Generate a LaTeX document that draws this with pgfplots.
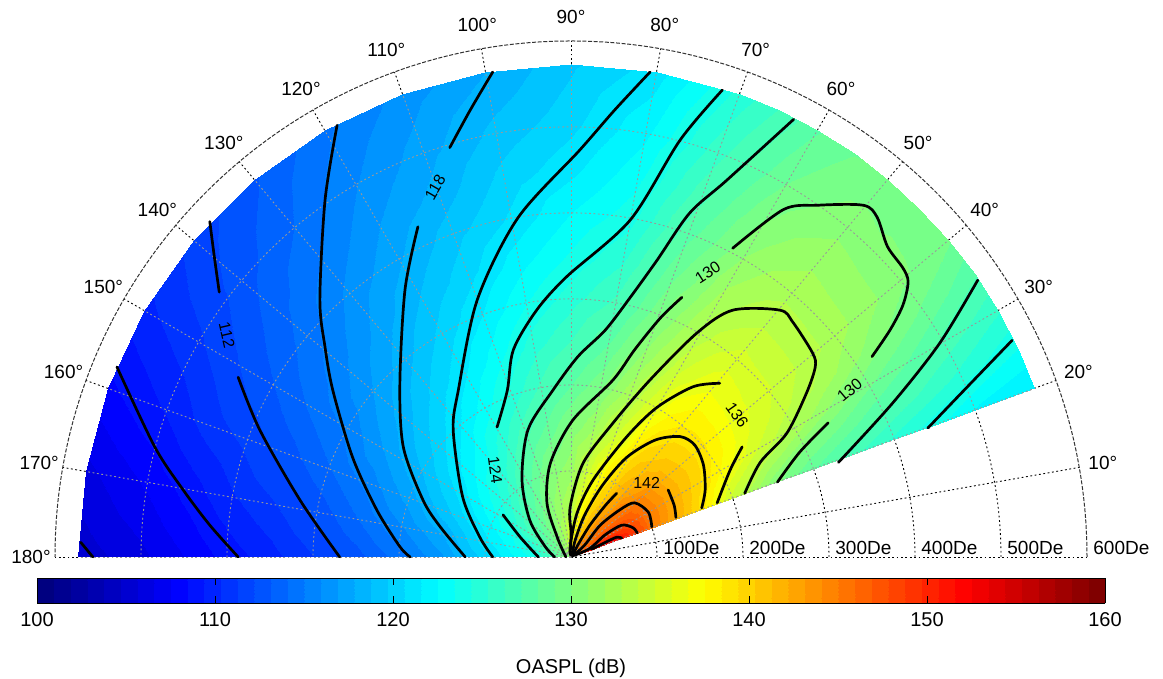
\documentclass[border=0pt]{standalone}
\usepackage{fontspec}
\setmainfont{Liberation Sans}
\usepackage{pgfplots}
\usepackage{pgfplotstable}
\pgfplotsset{compat=1.18}

\pgfplotsset{colormap/jet}
\pgfplotsset{colormap={jetbands}{samples of colormap=(64 of jet)}}

% OASPL field: angle t (deg), radius r (De), level v (dB)
\pgfplotstableread[row sep=\\]{
t r v\\
20 2 150\\ 20 25 151\\ 20 50 153\\ 20 75 149.5\\ 20 100 145\\ 20 150 140.2\\ 20 200 134.3\\ 20 250 130.4\\ 20 300 128.2\\ 20 350 126.5\\ 20 400 125.1\\ 20 450 123.8\\ 20 500 122.4\\ 20 573 121.5\\
25 2 148\\ 25 25 150\\ 25 50 150.7\\ 25 75 149\\ 25 100 145.3\\ 25 150 140.7\\ 25 200 135.8\\ 25 250 132.4\\ 25 300 130.0\\ 25 350 128.6\\ 25 400 127.2\\ 25 450 126.1\\ 25 500 125.0\\ 25 573 123.4\\
30 2 146\\ 30 25 147.5\\ 30 50 148.5\\ 30 75 148\\ 30 100 145.4\\ 30 150 141.0\\ 30 200 137.5\\ 30 250 134.7\\ 30 300 132.6\\ 30 350 130.7\\ 30 400 129.2\\ 30 450 128.1\\ 30 500 126.9\\ 30 573 125.4\\
35 2 145\\ 35 25 146.5\\ 35 50 147.5\\ 35 75 147\\ 35 100 145.1\\ 35 150 141.2\\ 35 200 138.3\\ 35 250 135.7\\ 35 300 134.1\\ 35 350 132.6\\ 35 400 131.2\\ 35 450 129.9\\ 35 500 128.9\\ 35 573 127.3\\
40 2 144\\ 40 25 145.3\\ 40 50 146\\ 40 75 145.7\\ 40 100 144.9\\ 40 150 141.0\\ 40 200 138.6\\ 40 250 136.1\\ 40 300 134.8\\ 40 350 133.5\\ 40 400 132.3\\ 40 450 131.3\\ 40 500 130.2\\ 40 573 129.2\\
45 2 145\\ 45 25 145.3\\ 45 50 145.5\\ 45 75 145.1\\ 45 100 143.3\\ 45 150 140.8\\ 45 200 138.6\\ 45 250 136.4\\ 45 300 134.9\\ 45 350 133.6\\ 45 400 132.4\\ 45 450 131.4\\ 45 500 130.3\\ 45 573 129.5\\
50 2 145\\ 50 25 144.4\\ 50 50 143.7\\ 50 75 142.9\\ 50 100 142.2\\ 50 150 140.2\\ 50 200 138.4\\ 50 250 136.6\\ 50 300 135.1\\ 50 350 133.7\\ 50 400 132.5\\ 50 450 131.6\\ 50 500 130.6\\ 50 573 129.3\\
55 2 145\\ 55 25 144\\ 55 50 143.3\\ 55 75 142.4\\ 55 100 141.4\\ 55 150 139.6\\ 55 200 137.6\\ 55 250 135.7\\ 55 300 134.4\\ 55 350 133.0\\ 55 400 132.0\\ 55 450 131.0\\ 55 500 130.0\\ 55 573 129.0\\
60 2 143\\ 60 25 141.9\\ 60 50 141.2\\ 60 75 140.5\\ 60 100 139.9\\ 60 150 138.3\\ 60 200 136.0\\ 60 250 134.6\\ 60 300 133.2\\ 60 350 132.1\\ 60 400 131.0\\ 60 450 130.0\\ 60 500 129.1\\ 60 573 128.0\\
65 2 142\\ 65 25 141.4\\ 65 50 140.6\\ 65 75 139.8\\ 65 100 139.0\\ 65 150 136.2\\ 65 200 134.4\\ 65 250 132.7\\ 65 300 131.4\\ 65 350 130.2\\ 65 400 129.2\\ 65 450 128.4\\ 65 500 127.5\\ 65 573 126.3\\
70 2 142\\ 70 25 140.8\\ 70 50 139.7\\ 70 75 138.5\\ 70 100 137.1\\ 70 150 134.7\\ 70 200 132.6\\ 70 250 131.2\\ 70 300 129.8\\ 70 350 128.8\\ 70 400 127.8\\ 70 450 126.8\\ 70 500 125.9\\ 70 573 124.7\\
80 2 141\\ 80 25 138.1\\ 80 50 136.7\\ 80 75 135.4\\ 80 100 134.2\\ 80 150 131.9\\ 80 200 129.9\\ 80 250 128.1\\ 80 300 126.5\\ 80 350 125.2\\ 80 400 124.0\\ 80 450 123.1\\ 80 500 122.3\\ 80 573 121.1\\
90 2 139\\ 90 25 136\\ 90 50 132.9\\ 90 75 132.3\\ 90 100 131.6\\ 90 150 130.2\\ 90 200 128.1\\ 90 250 126.3\\ 90 300 124.9\\ 90 350 123.6\\ 90 400 122.5\\ 90 450 121.3\\ 90 500 120.4\\ 90 573 119.5\\
100 2 134\\ 100 25 133.2\\ 100 50 132.3\\ 100 75 131.5\\ 100 100 130.7\\ 100 150 128.6\\ 100 200 126.5\\ 100 250 124.9\\ 100 300 123.4\\ 100 350 122.1\\ 100 400 120.8\\ 100 450 120.0\\ 100 500 119.1\\ 100 573 117.8\\
110 2 132.5\\ 110 25 131.8\\ 110 50 131.0\\ 110 75 130.3\\ 110 100 129.3\\ 110 150 127.1\\ 110 200 124.7\\ 110 250 123.0\\ 110 300 121.6\\ 110 350 120.3\\ 110 400 119.3\\ 110 450 118.2\\ 110 500 117.4\\ 110 573 116.3\\
120 2 132\\ 120 25 131\\ 120 50 129.8\\ 120 75 128.7\\ 120 100 127.7\\ 120 150 125.2\\ 120 200 123.0\\ 120 250 121.3\\ 120 300 120.0\\ 120 350 118.8\\ 120 400 117.7\\ 120 450 116.8\\ 120 500 115.9\\ 120 573 114.8\\
130 2 131\\ 130 25 129.7\\ 130 50 128.6\\ 130 75 127.5\\ 130 100 126.1\\ 130 150 123.4\\ 130 200 121.5\\ 130 250 119.9\\ 130 300 118.4\\ 130 350 117.2\\ 130 400 116.2\\ 130 450 115.1\\ 130 500 114.1\\ 130 573 113.0\\
140 2 130.2\\ 140 25 129\\ 140 50 127.6\\ 140 75 126.2\\ 140 100 124.7\\ 140 150 122.3\\ 140 200 120.2\\ 140 250 118.4\\ 140 300 116.9\\ 140 350 115.6\\ 140 400 114.5\\ 140 450 113.6\\ 140 500 112.7\\ 140 573 111.6\\
150 2 130\\ 150 25 128.6\\ 150 50 126.9\\ 150 75 125.1\\ 150 100 123.5\\ 150 150 120.9\\ 150 200 118.8\\ 150 250 117.0\\ 150 300 115.3\\ 150 350 114.2\\ 150 400 113.1\\ 150 450 112.1\\ 150 500 111.1\\ 150 573 110.0\\
160 2 130\\ 160 25 128.0\\ 160 50 125.2\\ 160 75 123.3\\ 160 100 122.2\\ 160 150 119.6\\ 160 200 117.3\\ 160 250 115.4\\ 160 300 114.0\\ 160 350 112.7\\ 160 400 111.6\\ 160 450 110.7\\ 160 500 109.5\\ 160 573 108.2\\
170 2 131.5\\ 170 25 126.9\\ 170 50 124.0\\ 170 75 122.6\\ 170 100 121.3\\ 170 150 117.9\\ 170 200 115.9\\ 170 250 114.1\\ 170 300 112.5\\ 170 350 111.2\\ 170 400 110.2\\ 170 450 108.9\\ 170 500 107.7\\ 170 573 106.3\\
180 2 131\\ 180 25 126.1\\ 180 50 123.3\\ 180 75 121.9\\ 180 100 120.2\\ 180 150 116.7\\ 180 200 114.5\\ 180 250 112.7\\ 180 300 111.2\\ 180 350 109.9\\ 180 400 108.8\\ 180 450 107.5\\ 180 500 106.3\\ 180 573 105.0\\
}\field

\newcommand\angfont{\fontsize{9.5}{11}\selectfont}
\newcommand\clab{\fontsize{8}{9.5}\selectfont}
\tikzset{
  gridblack/.style={black, line width=0.45pt, dash pattern=on 0.9pt off 1.3pt},
  gridgray/.style={black!40, line width=0.45pt, dash pattern=on 0.9pt off 1.3pt},
  cont/.style={black, line width=1.35pt, line cap=round, line join=round, smooth, tension=0.5},
}

\begin{document}
\begin{tikzpicture}[x=1pt,y=1pt]
\begin{axis}[
  scale only axis, width=516pt, height=258pt,
  xmin=-600, xmax=600, ymin=0, ymax=600, zmin=0, zmax=1,
  view={0}{90}, hide axis, clip=false,
  colormap name=jetbands, colormap access=piecewise constant,
  point meta min=100, point meta max=160,
  colorbar horizontal,
  colorbar style={
    at={(parent axis.south)}, anchor=north, yshift=-2pt,
    scale only axis, width=534pt, height=12.5pt,
    xtick={100,110,...,160},
    xticklabel pos=lower, xtick pos=both,
    tick align=inside, major tick length=3.5pt,
    tick style={black, line width=0.4pt},
    axis line style={black, line width=0.4pt},
    /pgf/number format/assume math mode=true,
    xticklabel style={font=\fontsize{10}{12}\selectfont, yshift=-1pt},
    xlabel={OASPL (dB)},
    xlabel style={font=\fontsize{10}{12}\selectfont, yshift=-9.5pt},
  },
]
\coordinate (O) at (axis cs:0,0,0);
% grid under the field (shows in the empty wedge and outside the field)
\pgfplotsinvokeforeach{43,86,129,172,215}{
  \draw[gridblack] (axis cs:0,0,0) ++(0:#1pt) arc[start angle=0,end angle=180,radius=#1pt];
}
\pgfplotsinvokeforeach{0,10,...,180}{
  \draw[gridblack] (axis cs:0,0,0) -- ++(#1:258pt);
}

\addplot3[surf, shader=interp, mesh/cols=14, point meta=explicit]
  table[x expr={\thisrow{r}*cos(\thisrow{t})}, y expr={\thisrow{r}*sin(\thisrow{t})}, z expr=0, meta=v] {\field};

% grid over the field
\pgfplotsinvokeforeach{43,86,129,172,215}{
  \draw[gridgray] (axis cs:0,0,0) ++(20:#1pt) arc[start angle=20,end angle=180,radius=#1pt];
}
\pgfplotsinvokeforeach{20,30,...,180}{
  \draw[gridgray] (axis cs:0,0,0) -- ++(#1:246pt);
}
\draw[black!80, line width=0.5pt, dash pattern=on 2pt off 0.8pt]
  (axis cs:0,0,0) ++(0:258pt) arc[start angle=0,end angle=180,radius=258pt];

% contour lines
\addplot[cont] coordinates {(-570,17) (-556,0)};
\addplot[cont] coordinates {(-528,221) (-484,128) (-451,78) (-420,37) (-387,0)};
\addplot[cont] coordinates {(-420,390) (-415,351) (-409,308)};
\addplot[cont] coordinates {(-387,209) (-362,148) (-315,66) (-269,0)};
\addplot[cont] coordinates {(-272,502) (-286,415) (-292,299) (-286,244) (-277,194) (-254,116) (-226,55) (-199,12) (-187,0)};
\addplot[cont] coordinates {(-91,564) (-117,520) (-141,476)};
\addplot[cont] coordinates {(-178,384) (-193,311) (-199,202) (-195,128) (-172,66) (-152,35) (-123,0)};
\addplot[cont] coordinates {(92,564) (51,520) (10,473) (-62,394) (-109,299) (-131,194) (-137,148) (-126,70) (-106,23) (-91,0)};
\addplot[cont] coordinates {(176,543) (127,485) (69,392) (-5,326) (-40,287) (-67,241) (-74,194) (-86,151)};
\addplot[cont] coordinates {(-79,49) (-59,23) (-38,0)};
\addplot[cont] coordinates {(513,252) (461,198) (415,150)};
\addplot[cont] coordinates {(259,509) (181,438) (138,400) (100,345) (69,302) (40,264) (8,233) (-21,194) (-50,148) (-57,90) (-48,43) (-30,12) (-19,0)};
\addplot[cont] coordinates {(473,322) (429,249) (374,179) (311,110)};
\addplot[cont] coordinates {(240,87) (266,122) (299,156)};
\addplot[cont] coordinates {(350,233) (371,264) (386,293) (392,320) (386,336) (368,361) (356,395) (340,409) (286,409) (247,404) (188,359)};
\addplot[cont] coordinates {(129,302) (104,278) (74,241) (49,206) (2,159) (-24,109) (-28,63) (-16,23) (-6,0)};
\addplot[cont] coordinates {(-1,3) (0,28) (-1,58) (14,109) (49,156) (92,206) (147,261) (188,287) (243,287) (258,273) (281,237) (284,221) (274,191) (251,144) (220,110) (202,74)};
\addplot[cont] coordinates {(0,2) (-1,12) (7,51) (26,90) (65,140) (100,174) (142,198) (173,202)};
\addplot[cont] coordinates {(199,128) (185,101) (170,63)};
\addplot[cont] coordinates {(1,2) (5,20) (16,49) (37,84) (65,116) (98,136) (127,140) (144,130) (154,107) (156,78) (152,57)};
\addplot[cont] coordinates {(2,2) (8,14) (22,37) (40,60) (53,74)};
\addplot[cont] coordinates {(113,78) (120,60) (122,46)};
\addplot[cont] coordinates {(2,1) (16,14) (34,37) (57,55) (74,63) (90,52) (94,35)};
\addplot[cont] coordinates {(4,2) (22,10) (40,26) (59,37) (72,34) (77,28)};
\addplot[cont] coordinates {(24,9) (40,17) (53,23) (59,22)};

% contour labels
\node[rotate=-77, font=\clab, inner sep=0pt] at (axis cs:-400,258,0) {112};
\node[rotate=60, font=\clab, inner sep=0pt] at (axis cs:-158,430,0) {118};
\node[rotate=-82, font=\clab, inner sep=0pt] at (axis cs:-88,101,0) {124};
\node[rotate=33, font=\clab, inner sep=0pt] at (axis cs:159,331,0) {130};
\node[rotate=40, font=\clab, inner sep=0pt] at (axis cs:324,194,0) {130};
\node[rotate=-55, font=\clab, inner sep=0pt] at (axis cs:193,165,0) {136};
\node[font=\clab, inner sep=0pt] at (axis cs:88,86,0) {142};

% angle labels
\pgfplotsinvokeforeach{10,20,...,180}{
  \path (axis cs:0,0,0) ++(#1:270pt) node[font=\angfont, inner sep=0pt] {#1°};
}
% radius labels
\node[anchor=base west, inner sep=0pt, font=\angfont] at (axis cs:107,3,0) {100De};
\node[anchor=base west, inner sep=0pt, font=\angfont] at (axis cs:207,3,0) {200De};
\node[anchor=base west, inner sep=0pt, font=\angfont] at (axis cs:307,3,0) {300De};
\node[anchor=base west, inner sep=0pt, font=\angfont] at (axis cs:407,3,0) {400De};
\node[anchor=base west, inner sep=0pt, font=\angfont] at (axis cs:507,3,0) {500De};
\node[anchor=base west, inner sep=0pt, font=\angfont] at (axis cs:607,3,0) {600De};
\end{axis}
\pgfresetboundingbox
\path[use as bounding box] (O) ++(-285.5,-61) rectangle ++(581.5,339.5);
\end{tikzpicture}
\end{document}
